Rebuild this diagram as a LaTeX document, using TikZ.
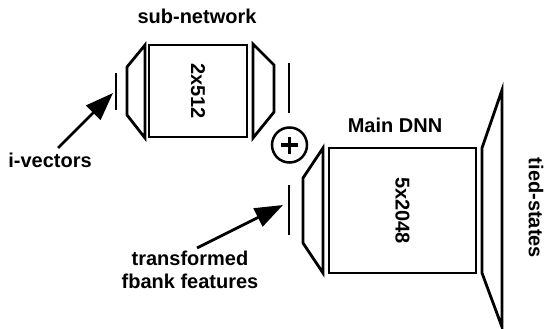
\documentclass[tikz,border=0pt]{standalone}
\usepackage{fontspec}
\setmainfont{Liberation Sans}
\usetikzlibrary{arrows.meta}
\begin{document}
\begin{tikzpicture}[x=1pt,y=-1pt]
\tikzset{
  lbl/.style={font=\fontsize{20}{23}\selectfont\bfseries, inner sep=0pt},
  ln/.style={draw, line width=2.8pt, line join=miter},
  boxnode/.style={draw, line width=2.8pt, inner sep=0pt},
  arr/.style={-{Triangle[length=28pt,width=20pt]}, line width=2.8pt}
}
\useasboundingbox (0,0) rectangle (544,329);
% sub-network
\draw[ln] (116,73) -- (116,110);
\draw[ln] (145,45) -- (127,67) -- (127,115) -- (145,138) -- cycle;
\node[boxnode, minimum width=98pt, minimum height=92pt] (sub) at (198,91) {};
\node[lbl, rotate=-90] (subtxt) at (sub.center) {2x512};
\draw[ln] (253,44) -- (274,65) -- (274,112) -- (253,138) -- cycle;
\draw[ln] (289,63) -- (289,113);
\node[lbl] (subtitle) at (197,16) {sub-network};
% plus
\node[draw, circle, line width=2.5pt, minimum size=35pt, inner sep=0pt] (plus) at (289.5,145) {};
\draw[line width=3.5pt] ([xshift=-8.5pt]plus.center) -- ([xshift=8.5pt]plus.center);
\draw[line width=3.5pt] ([yshift=-8.5pt]plus.center) -- ([yshift=8.5pt]plus.center);
% main DNN
\draw[ln] (289,185) -- (289,235);
\draw[ln] (323,148) -- (303,178) -- (303,243) -- (323,273) -- cycle;
\node[boxnode, minimum width=147pt, minimum height=125pt] (main) at (402.5,210.5) {};
\node[lbl, rotate=-90] (maintxt) at (main.center) {5x2048};
\draw[ln] (482,148) -- (502,90) -- (502,327) -- (482,273) -- cycle;
\node[lbl] (maintitle) at (395,125) {Main DNN};
\node[lbl, rotate=-90] (tied) at (536,208) {tied-states};
% inputs
\node[lbl] (ivec) at (50,160) {i-vectors};
\node[lbl, align=center] (fbank) at (190,270) {transformed\\fbank features};
\coordinate (ivtail) at (58,148);
\coordinate (ivtip) at (113,93);
\coordinate (fbtail) at (197,248);
\coordinate (fbtip) at (283,205);
\draw[arr] (ivtail) -- (ivtip);
\draw[arr] (fbtail) -- (fbtip);
\end{tikzpicture}
\end{document}
